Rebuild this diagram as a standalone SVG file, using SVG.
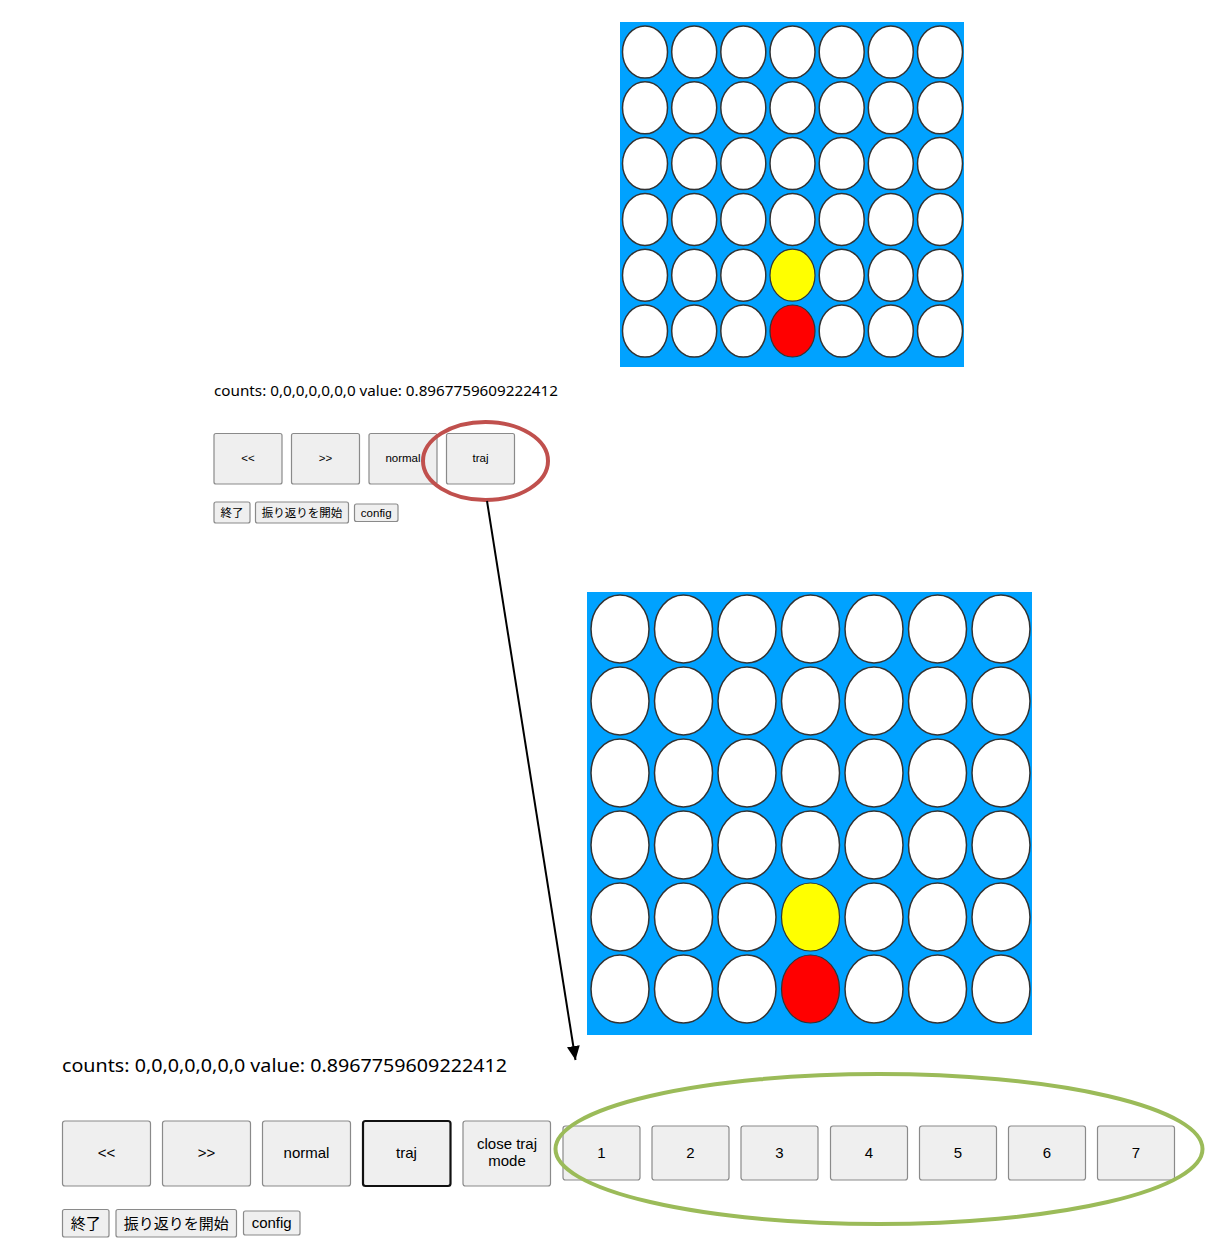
<svg xmlns="http://www.w3.org/2000/svg" width="1229" height="1250" viewBox="0 0 1229 1250">
<style>
.board{fill:#00a2ff}
.hole{fill:#fff;stroke:#333;stroke-width:1.5}
.y{fill:#ffff00;stroke:#333;stroke-width:1.2}
.r{fill:#ff0000;stroke:#333;stroke-width:1.2}
.btn{fill:#efefef;stroke:#8a8a8a;stroke-width:1.2}
.btnsel{fill:#efefef;stroke:#111;stroke-width:2.2}
.t{font-family:"Liberation Sans",Arial,sans-serif;fill:#000;text-anchor:middle}
.j{font-family:"Noto Sans CJK JP","Noto Sans",sans-serif;fill:#000;text-anchor:middle}
.c{font-family:"Noto Sans","Noto Sans CJK JP",sans-serif;fill:#000}
</style>
<defs>
<marker id="ah" markerWidth="14" markerHeight="13" refX="14" refY="6.5" orient="auto" markerUnits="userSpaceOnUse" viewBox="0 0 14 13">
<path d="M0,0 L14,6.5 L0,13 z" fill="#000"/>
</marker>
</defs>
<rect width="1229" height="1250" fill="#fff"/>

<g id="board-top">
<rect class="board" x="620" y="22" width="344" height="345"/>
<g id="top-holes">
<ellipse class="hole" cx="645" cy="52" rx="22.5" ry="26"/><ellipse class="hole" cx="694.2" cy="52" rx="22.5" ry="26"/><ellipse class="hole" cx="743.3" cy="52" rx="22.5" ry="26"/><ellipse class="hole" cx="792.5" cy="52" rx="22.5" ry="26"/><ellipse class="hole" cx="841.7" cy="52" rx="22.5" ry="26"/><ellipse class="hole" cx="890.8" cy="52" rx="22.5" ry="26"/><ellipse class="hole" cx="940" cy="52" rx="22.5" ry="26"/>
<ellipse class="hole" cx="645" cy="107.8" rx="22.5" ry="26"/><ellipse class="hole" cx="694.2" cy="107.8" rx="22.5" ry="26"/><ellipse class="hole" cx="743.3" cy="107.8" rx="22.5" ry="26"/><ellipse class="hole" cx="792.5" cy="107.8" rx="22.5" ry="26"/><ellipse class="hole" cx="841.7" cy="107.8" rx="22.5" ry="26"/><ellipse class="hole" cx="890.8" cy="107.8" rx="22.5" ry="26"/><ellipse class="hole" cx="940" cy="107.8" rx="22.5" ry="26"/>
<ellipse class="hole" cx="645" cy="163.6" rx="22.5" ry="26"/><ellipse class="hole" cx="694.2" cy="163.6" rx="22.5" ry="26"/><ellipse class="hole" cx="743.3" cy="163.6" rx="22.5" ry="26"/><ellipse class="hole" cx="792.5" cy="163.6" rx="22.5" ry="26"/><ellipse class="hole" cx="841.7" cy="163.6" rx="22.5" ry="26"/><ellipse class="hole" cx="890.8" cy="163.6" rx="22.5" ry="26"/><ellipse class="hole" cx="940" cy="163.6" rx="22.5" ry="26"/>
<ellipse class="hole" cx="645" cy="219.4" rx="22.5" ry="26"/><ellipse class="hole" cx="694.2" cy="219.4" rx="22.5" ry="26"/><ellipse class="hole" cx="743.3" cy="219.4" rx="22.5" ry="26"/><ellipse class="hole" cx="792.5" cy="219.4" rx="22.5" ry="26"/><ellipse class="hole" cx="841.7" cy="219.4" rx="22.5" ry="26"/><ellipse class="hole" cx="890.8" cy="219.4" rx="22.5" ry="26"/><ellipse class="hole" cx="940" cy="219.4" rx="22.5" ry="26"/>
<ellipse class="hole" cx="645" cy="275.2" rx="22.5" ry="26"/><ellipse class="hole" cx="694.2" cy="275.2" rx="22.5" ry="26"/><ellipse class="hole" cx="743.3" cy="275.2" rx="22.5" ry="26"/><ellipse class="y" cx="792.5" cy="275.2" rx="22.5" ry="26"/><ellipse class="hole" cx="841.7" cy="275.2" rx="22.5" ry="26"/><ellipse class="hole" cx="890.8" cy="275.2" rx="22.5" ry="26"/><ellipse class="hole" cx="940" cy="275.2" rx="22.5" ry="26"/>
<ellipse class="hole" cx="645" cy="331" rx="22.5" ry="26"/><ellipse class="hole" cx="694.2" cy="331" rx="22.5" ry="26"/><ellipse class="hole" cx="743.3" cy="331" rx="22.5" ry="26"/><ellipse class="r" cx="792.5" cy="331" rx="22.5" ry="26"/><ellipse class="hole" cx="841.7" cy="331" rx="22.5" ry="26"/><ellipse class="hole" cx="890.8" cy="331" rx="22.5" ry="26"/><ellipse class="hole" cx="940" cy="331" rx="22.5" ry="26"/>
</g>
</g>

<g id="counts-top"><text class="c" x="214" y="396" font-size="14" textLength="344" lengthAdjust="spacingAndGlyphs">counts: 0,0,0,0,0,0,0 value: 0.8967759609222412</text></g>

<g id="top-buttons">
<g id="btn-top-prev"><rect class="btn" x="214" y="433.5" width="68" height="50.5" rx="2"/><text class="t" x="248" y="462" font-size="11.5">&lt;&lt;</text></g>
<g id="btn-top-next"><rect class="btn" x="291.5" y="433.5" width="68" height="50.5" rx="2"/><text class="t" x="325.5" y="462" font-size="11.5">&gt;&gt;</text></g>
<g id="btn-top-normal"><rect class="btn" x="369" y="433.5" width="68" height="50.5" rx="2"/><text class="t" x="403" y="462" font-size="11.5">normal</text></g>
<g id="btn-top-traj"><rect class="btn" x="446.5" y="433.5" width="68" height="50.5" rx="2"/><text class="t" x="480.5" y="462" font-size="11.5">traj</text></g>
<g id="btn-top-end"><rect class="btn" x="214" y="502" width="36" height="21" rx="2"/><text class="j" x="232" y="516.5" font-size="11.5">終了</text></g>
<g id="btn-top-review"><rect class="btn" x="255.5" y="502" width="93" height="21" rx="2"/><text class="j" x="302" y="516.5" font-size="11.5">振り返りを開始</text></g>
<g id="btn-top-config"><rect class="btn" x="354.5" y="504" width="43.5" height="17.5" rx="2"/><text class="t" x="376.2" y="516.5" font-size="11.5">config</text></g>
</g>

<g id="red-highlight"><ellipse cx="485.5" cy="461" rx="62.5" ry="39" fill="none" stroke="#c0504d" stroke-width="4"/></g>

<g id="board-bottom">
<rect class="board" x="587" y="592" width="445" height="443"/>
<g id="bottom-holes">
<ellipse class="hole" cx="620" cy="629" rx="29" ry="34"/><ellipse class="hole" cx="683.5" cy="629" rx="29" ry="34"/><ellipse class="hole" cx="747" cy="629" rx="29" ry="34"/><ellipse class="hole" cx="810.5" cy="629" rx="29" ry="34"/><ellipse class="hole" cx="874" cy="629" rx="29" ry="34"/><ellipse class="hole" cx="937.5" cy="629" rx="29" ry="34"/><ellipse class="hole" cx="1001" cy="629" rx="29" ry="34"/>
<ellipse class="hole" cx="620" cy="701" rx="29" ry="34"/><ellipse class="hole" cx="683.5" cy="701" rx="29" ry="34"/><ellipse class="hole" cx="747" cy="701" rx="29" ry="34"/><ellipse class="hole" cx="810.5" cy="701" rx="29" ry="34"/><ellipse class="hole" cx="874" cy="701" rx="29" ry="34"/><ellipse class="hole" cx="937.5" cy="701" rx="29" ry="34"/><ellipse class="hole" cx="1001" cy="701" rx="29" ry="34"/>
<ellipse class="hole" cx="620" cy="773" rx="29" ry="34"/><ellipse class="hole" cx="683.5" cy="773" rx="29" ry="34"/><ellipse class="hole" cx="747" cy="773" rx="29" ry="34"/><ellipse class="hole" cx="810.5" cy="773" rx="29" ry="34"/><ellipse class="hole" cx="874" cy="773" rx="29" ry="34"/><ellipse class="hole" cx="937.5" cy="773" rx="29" ry="34"/><ellipse class="hole" cx="1001" cy="773" rx="29" ry="34"/>
<ellipse class="hole" cx="620" cy="845" rx="29" ry="34"/><ellipse class="hole" cx="683.5" cy="845" rx="29" ry="34"/><ellipse class="hole" cx="747" cy="845" rx="29" ry="34"/><ellipse class="hole" cx="810.5" cy="845" rx="29" ry="34"/><ellipse class="hole" cx="874" cy="845" rx="29" ry="34"/><ellipse class="hole" cx="937.5" cy="845" rx="29" ry="34"/><ellipse class="hole" cx="1001" cy="845" rx="29" ry="34"/>
<ellipse class="hole" cx="620" cy="917" rx="29" ry="34"/><ellipse class="hole" cx="683.5" cy="917" rx="29" ry="34"/><ellipse class="hole" cx="747" cy="917" rx="29" ry="34"/><ellipse class="y" cx="810.5" cy="917" rx="29" ry="34"/><ellipse class="hole" cx="874" cy="917" rx="29" ry="34"/><ellipse class="hole" cx="937.5" cy="917" rx="29" ry="34"/><ellipse class="hole" cx="1001" cy="917" rx="29" ry="34"/>
<ellipse class="hole" cx="620" cy="989" rx="29" ry="34"/><ellipse class="hole" cx="683.5" cy="989" rx="29" ry="34"/><ellipse class="hole" cx="747" cy="989" rx="29" ry="34"/><ellipse class="r" cx="810.5" cy="989" rx="29" ry="34"/><ellipse class="hole" cx="874" cy="989" rx="29" ry="34"/><ellipse class="hole" cx="937.5" cy="989" rx="29" ry="34"/><ellipse class="hole" cx="1001" cy="989" rx="29" ry="34"/>
</g>
</g>

<g id="counts-bottom"><text class="c" x="62" y="1072" font-size="18" textLength="445" lengthAdjust="spacingAndGlyphs">counts: 0,0,0,0,0,0,0 value: 0.8967759609222412</text></g>

<g id="bottom-buttons">
<g id="btn-prev"><rect class="btn" x="62.5" y="1121" width="88" height="65" rx="2.5"/><text class="t" x="106.5" y="1158" font-size="15">&lt;&lt;</text></g>
<g id="btn-next"><rect class="btn" x="162.5" y="1121" width="88" height="65" rx="2.5"/><text class="t" x="206.5" y="1158" font-size="15">&gt;&gt;</text></g>
<g id="btn-normal"><rect class="btn" x="262.5" y="1121" width="88" height="65" rx="2.5"/><text class="t" x="306.5" y="1158" font-size="15">normal</text></g>
<g id="btn-traj"><rect class="btnsel" x="363" y="1121" width="87.5" height="65" rx="2.5"/><text class="t" x="406.5" y="1158" font-size="15">traj</text></g>
<g id="btn-close"><rect class="btn" x="463" y="1121" width="87.5" height="65" rx="2.5"/><text class="t" x="507" y="1149" font-size="15">close traj</text><text class="t" x="507" y="1166" font-size="15">mode</text></g>
<g id="btn-1"><rect class="btn" x="563" y="1126" width="77" height="54" rx="2.5"/><text class="t" x="601.5" y="1158" font-size="15">1</text></g>
<g id="btn-2"><rect class="btn" x="652" y="1126" width="77" height="54" rx="2.5"/><text class="t" x="690.5" y="1158" font-size="15">2</text></g>
<g id="btn-3"><rect class="btn" x="741" y="1126" width="77" height="54" rx="2.5"/><text class="t" x="779.5" y="1158" font-size="15">3</text></g>
<g id="btn-4"><rect class="btn" x="830.5" y="1126" width="77" height="54" rx="2.5"/><text class="t" x="869" y="1158" font-size="15">4</text></g>
<g id="btn-5"><rect class="btn" x="919.5" y="1126" width="77" height="54" rx="2.5"/><text class="t" x="958" y="1158" font-size="15">5</text></g>
<g id="btn-6"><rect class="btn" x="1008.5" y="1126" width="77" height="54" rx="2.5"/><text class="t" x="1047" y="1158" font-size="15">6</text></g>
<g id="btn-7"><rect class="btn" x="1097.5" y="1126" width="77" height="54" rx="2.5"/><text class="t" x="1136" y="1158" font-size="15">7</text></g>
<g id="btn-end"><rect class="btn" x="62.5" y="1209.5" width="46.5" height="27.5" rx="2"/><text class="j" x="85.7" y="1228.5" font-size="15">終了</text></g>
<g id="btn-review"><rect class="btn" x="116" y="1209.5" width="120.5" height="27.5" rx="2"/><text class="j" x="176.2" y="1228.5" font-size="15">振り返りを開始</text></g>
<g id="btn-config"><rect class="btn" x="243.5" y="1211" width="56.5" height="24" rx="2"/><text class="t" x="271.7" y="1228" font-size="15">config</text></g>
</g>

<g id="green-highlight"><ellipse cx="879" cy="1149" rx="323.5" ry="75" fill="none" stroke="#9bbb59" stroke-width="4"/></g>

<g id="connectors">
<line x1="487" y1="501" x2="575.5" y2="1060" stroke="#000" stroke-width="2" marker-end="url(#ah)"/>
</g>
</svg>
